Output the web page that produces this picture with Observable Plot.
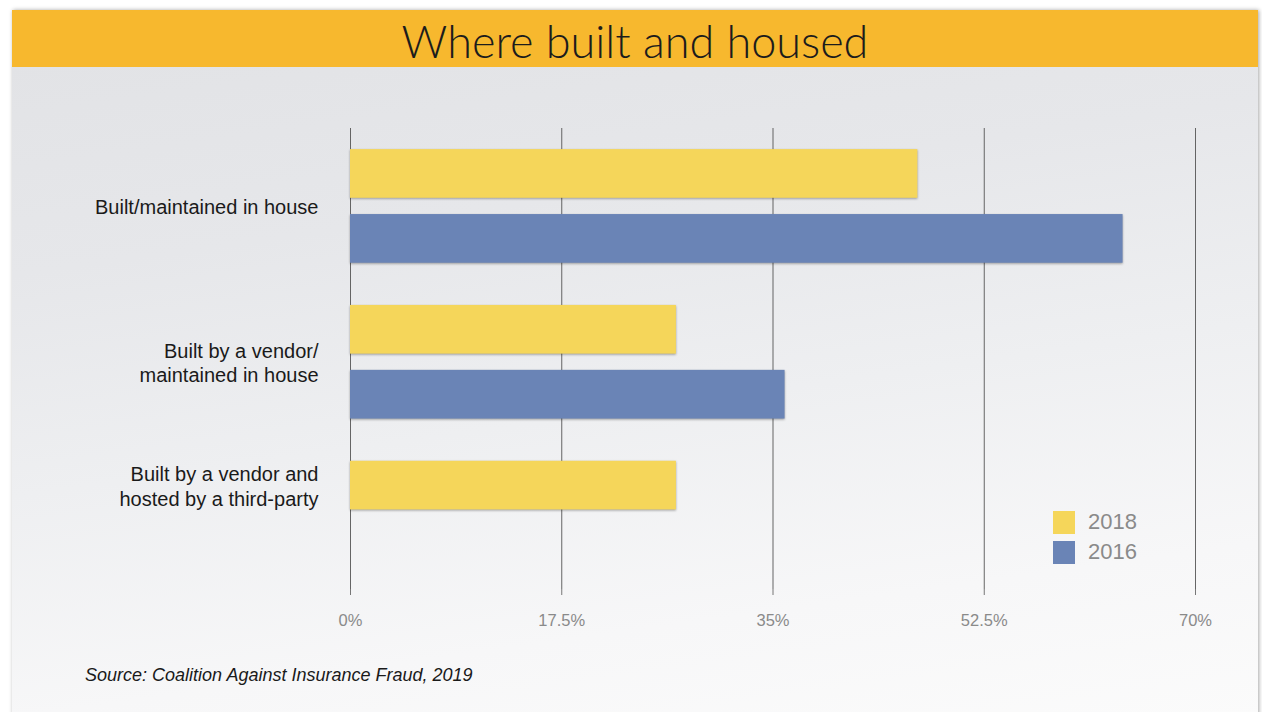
<!DOCTYPE html>
<html>
<head>
<meta charset="utf-8">
<script src="https://cdn.jsdelivr.net/npm/d3@7"></script>
<script src="https://cdn.jsdelivr.net/npm/@observablehq/plot@0.6"></script>
<style>
  html, body { margin: 0; padding: 0; background: #ffffff; width: 1262px; height: 712px; overflow: hidden; }
  #slide {
    position: absolute; left: 12px; top: 10px; width: 1246px; height: 710px;
    background: linear-gradient(172deg, #e1e2e5 0%, #e6e7ea 30%, #eeeff1 55%, #f7f7f8 80%, #fbfbfb 100%);
    box-shadow: 1px 0 4px rgba(0,0,0,0.35);
    overflow: hidden;
  }
  #titlebar {
    height: 57px; background: #f7b82e; box-sizing: border-box; padding-top: 4px;
    display: flex; align-items: center; justify-content: center;
    font-family: Lato, "Open Sans", sans-serif; font-weight: 300; font-size: 45px; color: #1c1c1c;
  }
  #chart { position: absolute; left: 0; top: 57px; }
  #caption {
    position: absolute; left: 73px; top: 655px;
    font-family: "Liberation Sans", Arial, sans-serif; font-style: italic; font-size: 18px; color: #1a1a1a;
  }
  #legend {
    position: absolute; left: 1041px; top: 497px;
    font-family: "Liberation Sans", Arial, sans-serif; font-size: 22px; color: #8a8a8a;
  }
  .lg { display: flex; align-items: center; height: 30px; }
  .sw { width: 22px; height: 23px; margin-right: 13px; }
  svg g[aria-label="rect"] rect { filter: drop-shadow(0px 1px 1px rgba(0,0,0,0.35)); }
</style>
</head>
<body>
<div id="slide">
  <div id="titlebar">Where built and housed</div>
  <div id="chart"></div>
  <div id="legend"></div>
  <div id="caption">Source: Coalition Against Insurance Fraud, 2019</div>
</div>
<script>
// ---- Data ----
const categories = [
  "Built/maintained in house",
  "Built by a vendor/\nmaintained in house",
  "Built by a vendor and\nhosted by a third-party"
];
const years = ["2018", "2016"];
const values2018 = [47, 27, 27];
const values2016 = [64, 36, null];
const xTicks = [0, 17.5, 35, 52.5, 70];
const colors = ["#f5d65a", "#6a84b6"];

// ---- Build table ----
const groupStep = 2.4;
const half = 0.375;
const seriesValues = [values2018, values2016];
const bars = [];
categories.forEach((c, i) => {
  years.forEach((yr, j) => {
    const v = seriesValues[j][i];
    if (v != null) bars.push({category: c, year: yr, value: v, pos: i * groupStep + j});
  });
});
const labels = categories.map(c => {
  const ps = bars.filter(b => b.category === c).map(b => b.pos);
  return {category: c, pos: d3.mean(ps)};
});

const chart = Plot.plot({
  width: 1246,
  height: 575,
  marginLeft: 338,
  marginRight: 63,
  marginTop: 61,
  marginBottom: 53,
  style: {background: "transparent", fontFamily: "'Liberation Sans', Arial, sans-serif"},
  x: {domain: [0, 70], ticks: xTicks},
  y: {domain: [-0.7, 6.4], reverse: true, axis: null},
  color: {domain: years, range: colors},
  marks: [
    Plot.gridX(xTicks, {stroke: "#555", strokeOpacity: 0.9, strokeWidth: 1}),
    Plot.axisX({
      ticks: xTicks, tickFormat: d => d + "%", tickSize: 6, tickPadding: 19,
      fontSize: 16.5, stroke: "#777", fill: "#8a8a8a", label: null
    }),
    Plot.rectX(bars, {
      x1: 0, x2: "value",
      y1: d => d.pos - half, y2: d => d.pos + half,
      fill: "year"
    }),
    Plot.text(labels, {
      y: "pos", text: "category", frameAnchor: "left", textAnchor: "end",
      dx: -32, fontSize: 20, lineHeight: 1.22, fill: "#1a1a1a"
    })
  ]
});
document.getElementById("chart").appendChild(chart);

const legend = document.getElementById("legend");
years.forEach((yr, j) => {
  const row = document.createElement("div");
  row.className = "lg";
  row.innerHTML = `<div class="sw" style="background:${colors[j]}"></div><span>${yr}</span>`;
  legend.appendChild(row);
});
</script>
</body>
</html>
